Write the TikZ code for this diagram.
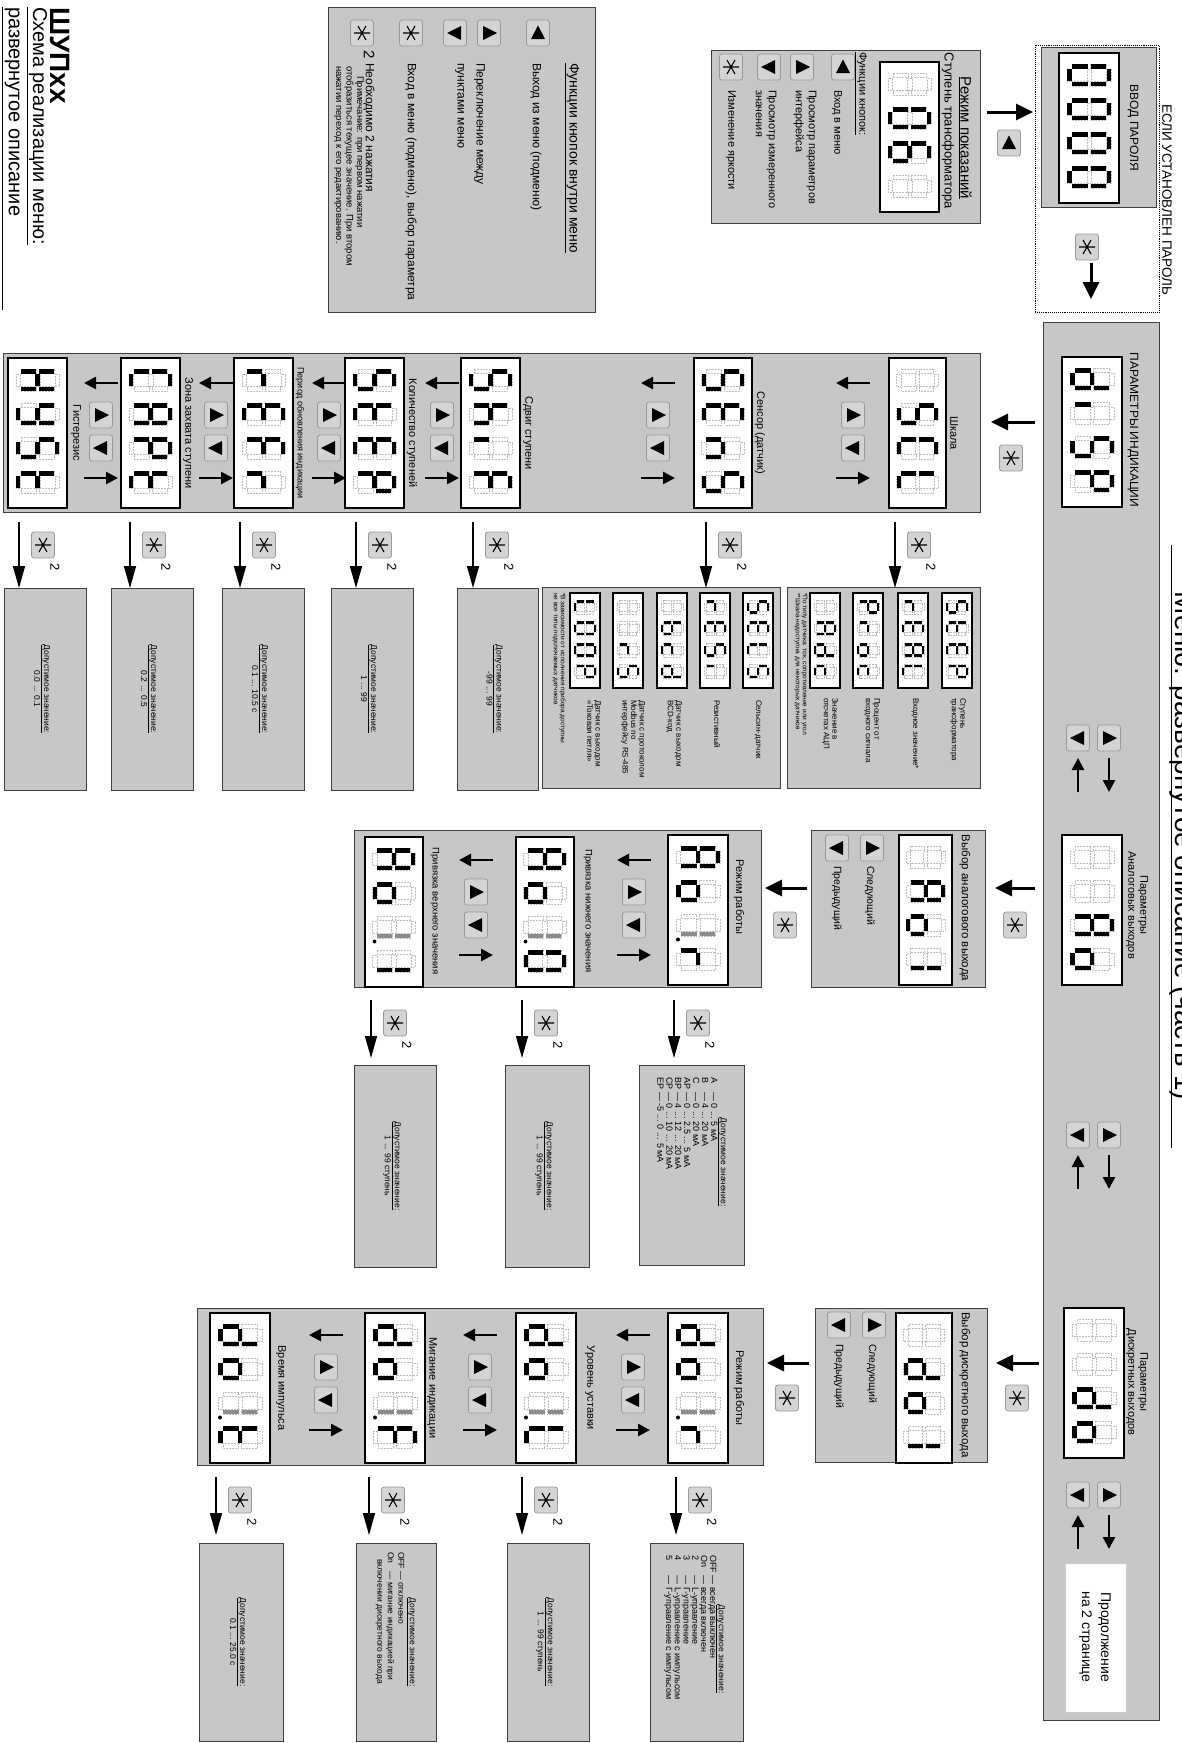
\documentclass[tikz,border=0pt]{standalone}
\usepackage{fontspec}
\setmainfont{Liberation Sans}
\usetikzlibrary{arrows.meta}
\definecolor{pan}{RGB}{199,199,199}
\definecolor{btnc}{RGB}{212,212,212}
\newcommand\fs[2]{\fontsize{#1}{#2}\selectfont}
\newcommand\SEGa[1]{\path[#1] (5,0) rectangle (17,4.5);}
\newcommand\SEGb[1]{\path[#1] (17.5,5) rectangle (22,20.5);}
\newcommand\SEGc[1]{\path[#1] (17.5,23.5) rectangle (22,39);}
\newcommand\SEGd[1]{\path[#1] (5,39.5) rectangle (17,44);}
\newcommand\SEGe[1]{\path[#1] (0,23.5) rectangle (4.5,39);}
\newcommand\SEGf[1]{\path[#1] (0,5) rectangle (4.5,20.5);}
\newcommand\SEGg[1]{\path[#1] (5,19.75) rectangle (17,24.25);}
\newcommand\SEGB[1]{\SEGb{seggray}}
\newcommand\SEGC[1]{\SEGc{seggray}}
\newcommand\SEGp[1]{\path[segon] (25.5,42) circle[radius=2];}
\newcommand\SEGz[1]{}
\newcommand\dig[2]{\begin{scope}[shift={(#1,8)}]
  \foreach \s in {a,b,c,d,e,f,g}{\csname SEG\s\endcsname{segoff}}
  \foreach \s in {#2}{\csname SEG\s\endcsname{segon}}
 \end{scope}}
\newcommand\disp[8]{\begin{scope}[shift={(#1,#2)},rotate=-90,xscale=#3,yscale=#4]
  \path[fill=white,draw=black,line width=2.2pt] (0,0) rectangle (150,60);
  \dig{11}{#5}\dig{45}{#6}\dig{79}{#7}\dig{113}{#8}
 \end{scope}}
\newcommand\SYMu{\fill (0,-7.5) -- (7,6) -- (-7,6) -- cycle;}
\newcommand\SYMr{\fill (8,0) -- (-6,-7) -- (-6,7) -- cycle;}
\newcommand\SYMl{\fill (-8,0) -- (6,-7) -- (6,7) -- cycle;}
\newcommand\SYMs{\draw[line width=1.1pt] (-8,0)--(8,0) (-4,-7)--(4,7) (-4,7)--(4,-7);}
\newcommand\btn[3]{\node[btnst] (#1) at (#2) {};
 \begin{scope}[shift={(#2)}]\csname SYM#3\endcsname\end{scope}}
\newcommand\pbox[5]{\node[panel, minimum width={(#4-#2)*1pt}, minimum height={(#5-#3)*1pt}] (#1) at (#2,#3) {};}
\newcommand\valbox[6]{\pbox{#1}{#2}{#3}{#4}{#5}
 \node[T, font=\fs{8.5}{10}] (#1t) at ({(#2+#4)/2-3},{(#3+#5)/2}) {\underline{Допустимое значение:}\\#6};}
\newcommand\dnarrow[4]{\coordinate (#1a) at (#2,#3); \coordinate (#1b) at (#2,#4);
 \draw[darr] (#1a) -- (#1b);
 \btn{#1s}{#2+24,#3+23}{s}
 \node[T, font=\fs{13}{14}] (#1n) at (#2+36,#3+45) {2};}
\newcommand\navrow[3]{\coordinate (#1a) at (#2+17,#3+25); \coordinate (#1b) at (#2-17,#3+25);
 \draw[narr] (#1a) -- (#1b);
 \btn{#1r}{#2,#3+57}{r}
 \btn{#1l}{#2,#3+90}{l}
 \coordinate (#1c) at (#2-17,#3+120); \coordinate (#1d) at (#2+17,#3+120);
 \draw[narr] (#1c) -- (#1d);}
\newcommand\udpair[2]{\btn{#1l}{1078,#2}{l}\btn{#1r}{1109,#2}{r}
 \coordinate (#1a) at (1109,#2+20); \coordinate (#1b) at (1109,#2+54);
 \coordinate (#1c) at (1078,#2+54); \coordinate (#1d) at (1078,#2+20);
 \draw[narr] (#1a) -- (#1b); \draw[narr] (#1c) -- (#1d);}
\tikzset{
 T/.style={rotate=-90, inner sep=0pt, outer sep=0pt, align=center},
 TL/.style={rotate=-90, inner sep=0pt, outer sep=0pt, align=left, anchor=west},
 panel/.style={fill=pan, draw=black!75, line width=0.8pt, inner sep=0pt, outer sep=0pt, anchor=north west},
 btnst/.style={draw=black!40, fill=btnc, rounded corners=2.5pt, minimum width=23pt, minimum height=26pt, inner sep=0pt, line width=0.8pt},
 arr/.style={line width=3pt, -{Triangle[length=17pt,width=16pt]}},
 narr/.style={line width=2.6pt, -{Triangle[length=12pt,width=12pt]}},
 darr/.style={line width=1.6pt, -{Triangle[length=22pt,width=12pt]}},
 segoff/.style={draw=black!25, densely dotted, line width=0.5pt},
 segon/.style={fill=black},
 seggray/.style={fill=black!45},
}
\begin{document}
\begin{tikzpicture}[x=1pt,y=-1pt]
\fill[white] (0,0) rectangle (1181,1743);
\useasboundingbox (0,0) rectangle (1181,1743);
% ---------- title
\node[TL, anchor=base west, font=\fs{28}{32}\bfseries] (t1) at (50,7) {ШУПхх};
\node[TL, anchor=base west, font=\fs{20}{24}] (t2) at (33,7) {\underline{Схема реализации меню:}};
\node[TL, anchor=base west, font=\fs{20}{24}] (t3) at (9,7) {развернутое описание};
\coordinate (ul1) at (2,7); \coordinate (ul2) at (2,310);
\draw[line width=0.9pt] (ul1) -- (ul2);
% ---------- legend
\pbox{leg}{328}{7}{595}{312}
\node[TL, font=\fs{14}{16}] (legt) at (572,63) {\underline{Функции кнопок внутри меню}};
\btn{lb1}{538,33}{u}\btn{lb2}{489,33}{r}\btn{lb3}{455,33}{l}\btn{lb4}{411,33}{s}\btn{lb5}{362,33}{s}
\node[TL, font=\fs{12}{14}] (lt1) at (536,63) {Выход из меню (подменю)};
\node[TL, font=\fs{12}{19}] (lt2) at (470,63) {Переключение между\\пунктами меню};
\node[TL, font=\fs{12}{14}] (lt3) at (411,63) {Вход в меню (подменю), выбор параметра};
\node[T, font=\fs{15}{16}] (lt4) at (369,55) {2};
\node[TL, font=\fs{12}{14}] (lt5) at (369,63) {Необходимо 2 нажатия};
\node[TL, font=\fs{9.5}{10.5}] (lt6) at (349,66) {\hspace*{10pt}Примечание: при первом нажатии\\отобразиться текущее значение. При втором\\нажатии переход к его редактированию.};
% ---------- Режим показаний
\pbox{rez}{711}{50}{980}{223}
\node[T, font=\fs{15}{17}] (rezt) at (965,138) {\underline{Режим показаний}};
\node[T, font=\fs{13}{15}] (rezs) at (948,131) {Ступень трансформатора};
\disp{939}{62}{1}{0.98}{z}{a,b,c,d,e,f}{a,c,d,e,f,g}{z}
\node[TL, font=\fs{11}{13}] (rezf) at (861,52) {\underline{Функции кнопок:}};
\btn{rb1}{843,67}{u}\btn{rb2}{802,67}{r}\btn{rb3}{769,67}{l}\btn{rb4}{731,67}{s}
\node[TL, font=\fs{11}{13}] (rt1) at (837,90) {Вход в меню};
\node[TL, font=\fs{11}{13}] (rt2) at (805,90) {Просмотр параметров\\интерфейса};
\node[TL, font=\fs{11}{13}] (rt3) at (766,90) {Просмотр измеренного\\значения};
\node[TL, font=\fs{11}{13}] (rt4) at (731,90) {Изменение яркости};
\coordinate (pa1) at (987,112); \coordinate (pa2) at (1033,112);
\draw[arr] (pa1) -- (pa2);
\btn{pab}{1009,143}{u}
% ---------- password
\node[draw=black, densely dotted, line width=0.9pt, anchor=north west, minimum width=124pt, minimum height=267pt, inner sep=0pt, outer sep=0pt] (pwd) at (1035,45) {};
\pbox{pwp}{1041}{47}{1156}{207}
\node[T, font=\fs{12}{14}] (pwt) at (1133,128) {ВВОД ПАРОЛЯ};
\disp{1119}{53}{1}{1}{a,b,c,d,e,f}{a,b,c,d,e,f}{a,b,c,d,e,f}{a,b,c,d,e,f}
\node[T, font=\fs{13.5}{15}] (pwl) at (1167,200) {ЕСЛИ УСТАНОВЛЕН ПАРОЛЬ};
\btn{pwb}{1087,247}{s}
\coordinate (pw1) at (1091,263); \coordinate (pw2) at (1091,299);
\draw[arr] (pw1) -- (pw2);
% ---------- main strip
\pbox{strip}{1043}{322}{1159}{1720}
\node[T, font=\fs{12}{14}] (st1) at (1133,430) {ПАРАМЕТРЫ ИНДИКАЦИИ};
\disp{1122}{357}{1}{1}{b,c,d,e,g}{e}{a,c,d,f,g}{a,b,e,f,g}
\udpair{u1}{738}
\node[T, font=\fs{11}{12}] (st2) at (1137,905) {Параметры\\Аналоговых выходов};
\disp{1122}{835}{1}{1}{z}{z}{a,b,c,e,f,g}{c,d,e,g}
\udpair{u2}{1135}
\node[T, font=\fs{11}{12}] (st3) at (1137,1382) {Параметры\\Дискретных выходов};
\disp{1124}{1308}{1}{1}{z}{z}{b,c,d,e,g}{c,d,e,g}
\udpair{u3}{1495}
\node[fill=white, draw=black!20, anchor=north west, minimum width=61pt, minimum height=149pt, inner sep=0pt] (cont) at (1065,1563) {};
\node[T, font=\fs{14}{19}] (contt) at (1095,1637) {Продолжение\\на 2 странице};
% right edge title (cut by page edge)
\node[T, anchor=base, font=\fs{28}{30}] (rtt) at (1175,846) {Меню: развернутое описание (часть 1)};
\coordinate (rl1) at (1171,545); \coordinate (rl2) at (1171,1148);
\draw[line width=1pt] (rl1) -- (rl2);
% ---------- dISP submenu
\coordinate (da1) at (1035,422); \coordinate (da2) at (991,422);
\draw[arr] (da1) -- (da2);
\btn{dab}{1011,458}{s}
\pbox{dsub}{3}{353}{980}{512}
\node[T, font=\fs{11}{12}] (l1) at (954,433) {Шкала};
\disp{946}{358}{1}{0.95}{z}{a,c,d,f,g}{a,d,e,f}{d,e,f}
\navrow{n1}{853}{358}
\node[T, font=\fs{11}{12}] (l2) at (760,433) {Сенсор (датчик)};
\disp{752}{358}{1}{0.97}{a,c,d,f,g}{a,d,e,f,g}{c,e,g}{a,c,d,f,g}
\navrow{n2}{658}{358}
\node[T, font=\fs{11}{12}] (l3) at (528,433) {Сдвиг ступени};
\disp{520}{358}{1}{0.98}{a,c,d,f,g}{c,e,f,g}{e}{a,e,f,g}
\navrow{n3}{442}{358}
\node[T, font=\fs{11}{12}] (l4) at (412,433) {Количество ступеней};
\disp{404}{358}{1}{0.98}{a,c,d,f,g}{d,e,f,g}{a,d,e,f,g}{a,b,e,f,g}
\navrow{n4}{329}{358}
\node[T, font=\fs{9}{10}] (l5) at (300,433) {Период обновления индикации};
\disp{293}{358}{1}{0.98}{e,g}{a,d,e,f,g}{a,e,f,g}{e,g}
\navrow{n5}{216}{358}
\node[T, font=\fs{11}{12}] (l6) at (188,433) {Зона захвата ступени};
\disp{180}{358}{1}{0.98}{a,d,e,f}{a,b,c,e,f,g}{a,b,e,f,g}{d,e,f,g}
\navrow{n6}{101}{358}
\node[T, font=\fs{11}{12}] (l7) at (76,433) {Гистерезис};
\disp{67}{358}{1}{0.98}{b,c,e,f,g}{b,c,d,f,g}{a,c,d,f,g}{d,e,f,g}
% down arrows dISP
\dnarrow{v1}{895}{522}{588}
\dnarrow{v2}{706}{522}{588}
\dnarrow{v3}{473}{522}{588}
\dnarrow{v4}{356}{522}{588}
\dnarrow{v5}{240}{522}{588}
\dnarrow{v6}{130}{522}{588}
\dnarrow{v7}{19}{522}{588}
% option boxes
\pbox{o1}{787}{587}{980}{788}
\disp{972}{593}{0.633}{0.5}{a,c,d,f,g}{d,e,f,g}{a,d,e,f,g}{a,b,e,f,g}
\disp{928}{593}{0.633}{0.5}{e,g}{a,d,e,f,g}{a,b,c,e,f,g}{d,e,f}
\disp{883}{593}{0.633}{0.5}{a,b,e,f,g}{e,g}{c,d,e,g}{d,e,g}
\disp{840}{593}{0.633}{0.5}{z}{a,b,c,e,f,g}{b,c,d,e,g}{d,e,g}
\node[TL, font=\fs{8}{8.5}] (o1a) at (958,698) {Ступень\\трансформатора};
\node[TL, font=\fs{8}{8.5}] (o1b) at (915,698) {Входное значение*};
\node[TL, font=\fs{8}{8.5}] (o1c) at (872,698) {Процент от\\входного сигнала};
\node[TL, font=\fs{8}{8.5}] (o1d) at (830,698) {Значение в\\отсчетах АЦП};
\node[TL, font=\fs{6.5}{7}] (o1e) at (801,593) {*По типу датчика: ток, сопротивление или угол\\**Шкала недоступна для некоторых датчиков};
\pbox{o2}{542}{587}{780}{788}
\disp{773}{593}{0.633}{0.5}{a,c,d,f,g}{a,d,e,f,g}{d,e,f}{a,c,d,f,g}
\disp{730}{593}{0.633}{0.5}{e,g}{a,d,e,f,g}{a,c,d,f,g}{e}
\disp{687}{593}{0.633}{0.5}{z}{c,d,e,f,g}{d,e,g}{b,c,d,e,g}
\disp{643}{593}{0.633}{0.5}{z}{z}{e,g}{a,c,d,f,g}
\disp{600}{593}{0.633}{0.5}{d,e,f}{a,b,c,d,e,f}{a,b,c,d,e,f}{a,b,e,f,g}
\node[TL, font=\fs{8}{8.5}] (o2a) at (758,700) {Сельсин-датчик};
\node[TL, font=\fs{8}{8.5}] (o2b) at (717,700) {Резистивный};
\node[TL, font=\fs{8}{8.5}] (o2c) at (674,700) {Датчик с выходом\\BCD-код};
\node[TL, font=\fs{8}{8.5}] (o2d) at (633,700) {Датчик с протоколом\\Modbus по\\интерфейсу RS-485};
\node[TL, font=\fs{8}{8.5}] (o2e) at (594,700) {Датчик с выходом\\«Токовая петля»};
\node[TL, font=\fs{6.5}{7}] (o2f) at (559,593) {*В зависимости от исполнения прибора доступны\\не все типы подключаемых датчиков};
% value boxes dISP
\valbox{w3}{457}{588}{538}{790}{-99 ... 99}
\valbox{w4}{331}{588}{413}{790}{1 ... 99}
\valbox{w5}{222}{588}{304}{790}{0.1 ... 10.5 с}
\valbox{w6}{111}{588}{193}{790}{0.2 ... 0.5}
\valbox{w7}{4}{588}{86}{790}{0.0 ... 0.1}
% ---------- Analog outputs
\coordinate (aa1) at (1035,888); \coordinate (aa2) at (995,888);
\draw[arr] (aa1) -- (aa2);
\btn{aab}{1015,925}{s}
\pbox{asel}{811}{830}{985}{987}
\node[T, font=\fs{11.5}{13}] (aselt) at (965,908) {Выбор аналогового выхода};
\disp{952}{835}{1}{0.88}{z}{a,b,c,e,f,g}{c,d,e,g}{b,c}
\btn{asr}{872,848}{r}\btn{asl}{837,848}{l}
\node[TL, font=\fs{10.5}{12}] (as1) at (870,866) {Следующий};
\node[TL, font=\fs{10.5}{12}] (as2) at (837,866) {Предыдущий};
\coordinate (ab1) at (807,888); \coordinate (ab2) at (765,888);
\draw[arr] (ab1) -- (ab2);
\btn{abb}{785,925}{s}
\pbox{apan}{354}{830}{761}{987}
\node[T, font=\fs{11}{12}] (ap1) at (739,897) {Режим работы};
\disp{728}{835}{1}{1}{a,b,c,e,f,g}{c,d,e,g}{B,C,p}{e,g}
\navrow{an1}{634}{835}
\node[T, font=\fs{9.5}{11}] (ap2) at (588,911) {Привязка нижнего значения};
\disp{574}{837}{1}{0.97}{a,b,c,e,f,g}{c,d,e,g}{B,C,p}{a,b,c,d,e,f}
\navrow{an2}{476}{835}
\node[T, font=\fs{9.5}{11}] (ap3) at (435,911) {Привязка верхнего значения};
\disp{423}{837}{1}{0.97}{a,b,c,e,f,g}{c,d,e,g}{B,C,p}{b,c}
\dnarrow{av1}{674}{1000}{1058}
\dnarrow{av2}{522}{1000}{1058}
\dnarrow{av3}{371}{1000}{1058}
\pbox{aw1}{639}{1065}{744}{1265}
\node[T, font=\fs{8.5}{10}] (aw1t) at (722,1162) {\underline{Допустимое значение:}};
\node[TL, font=\fs{9}{8.9}] (aw1l) at (686,1077) {\begin{tabular}{@{}l@{ }l@{}}A&— 0 ... 5 мА\\B&— 4 ... 20 мА\\C&— 0 ... 20 мА\\AP&— 0 ... 2.5 ... 5 мА\\BP&— 4 ... 12 ... 20 мА\\CP&— 0 ... 10 ... 20 мА\\EP&— -5 ... 0 ... 5 мА\end{tabular}};
\valbox{aw2}{505}{1065}{589}{1267}{1 ... 99 ступень}
\valbox{aw3}{354}{1065}{436}{1267}{1 ... 99 ступень}
% ---------- Discrete outputs
\coordinate (ba1) at (1039,1363); \coordinate (ba2) at (996,1363);
\draw[arr] (ba1) -- (ba2);
\btn{bab}{1017,1398}{s}
\pbox{bsel}{815}{1308}{987}{1462}
\node[T, font=\fs{11.5}{13}] (bselt) at (965,1385) {Выбор дискретного выхода};
\disp{952}{1313}{1}{0.93}{z}{b,c,d,e,g}{c,d,e,g}{b,c}
\btn{bsr}{874,1325}{r}\btn{bsl}{839,1325}{l}
\node[TL, font=\fs{10.5}{12}] (bs1) at (872,1344) {Следующий};
\node[TL, font=\fs{10.5}{12}] (bs2) at (839,1344) {Предыдущий};
\coordinate (bb1) at (809,1363); \coordinate (bb2) at (767,1363);
\draw[arr] (bb1) -- (bb2);
\btn{bbb}{787,1398}{s}
\pbox{bpan}{197}{1308}{763}{1465}
\node[T, font=\fs{11}{12}] (bp1) at (739,1388) {Режим работы};
\disp{728}{1313}{1}{1}{b,c,d,e,g}{c,d,e,g}{B,C,p}{e,g}
\navrow{bn1}{633}{1310}
\node[T, font=\fs{11}{12}] (bp2) at (590,1388) {Уровень уставки};
\disp{576}{1313}{1}{1}{b,c,d,e,g}{c,d,e,g}{B,C,p}{d,e,f}
\navrow{bn2}{480}{1310}
\node[T, font=\fs{11}{12}] (bp3) at (432,1388) {Мигание индикации};
\disp{425}{1313}{1}{1}{b,c,d,e,g}{c,d,e,g}{B,C,p}{a,e,f,g}
\navrow{bn3}{326}{1310}
\node[T, font=\fs{11}{12}] (bp4) at (281,1388) {Время импульса};
\disp{270}{1313}{1}{1}{b,c,d,e,g}{c,d,e,g}{B,C,p}{d,e,f,g}
\dnarrow{bv1}{676}{1477}{1535}
\dnarrow{bv2}{522}{1477}{1535}
\dnarrow{bv3}{369}{1477}{1535}
\dnarrow{bv4}{216}{1477}{1535}
\pbox{bw1}{650}{1543}{743}{1741}
\node[T, font=\fs{8.5}{10}] (bw1t) at (720,1649) {\underline{Допустимое значение:}};
\node[TL, font=\fs{9}{8.4}] (bw1l) at (690,1555) {\begin{tabular}{@{}l@{ }l@{}}OFF&— всегда выключен\\On&— всегда включен\\2&— L-управление\\3&— Г-управление\\4&— L-управление с импульсом\\5&— Г-управление с импульсом\end{tabular}};
\valbox{bw2}{507}{1543}{589}{1741}{1 ... 99 ступень}
\pbox{bw3}{356}{1543}{436}{1741}
\node[T, font=\fs{8.5}{10}] (bw3t) at (411,1642) {\underline{Допустимое значение:}};
\node[TL, font=\fs{8.5}{10.5}] (bw3l) at (390,1552) {\begin{tabular}{@{}l@{ }l@{}}OFF&— отключено\\On&— мигание индикацией при\\&\hspace*{-12pt}включении дискретного выхода\end{tabular}};
\valbox{bw4}{199}{1543}{283}{1741}{0.1 ... 25.0 с}
\end{tikzpicture}
\end{document}
